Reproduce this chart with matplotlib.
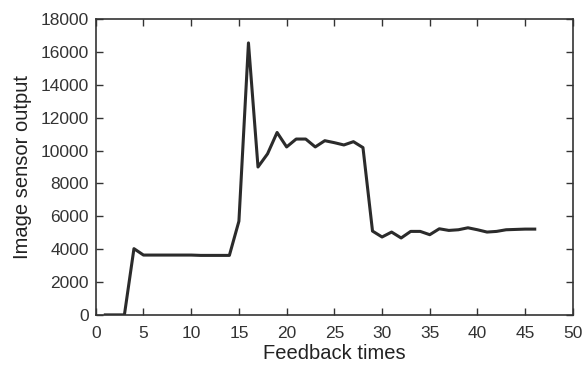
import matplotlib
matplotlib.use("Agg")
import matplotlib.pyplot as plt

plt.rcParams['font.family'] = ['Liberation Sans', 'DejaVu Sans']

feedback_times = list(range(1, 47))
sensor_output = [0, 0, 0, 4030, 3640, 3640, 3640, 3640, 3640, 3640,
                 3620, 3620, 3620, 3620, 5700, 16550, 9000, 9800, 11100, 10220,
                 10700, 10700, 10220, 10600, 10480, 10340, 10540, 10180, 5100, 4740,
                 5040, 4680, 5080, 5080, 4880, 5240, 5140, 5180, 5300, 5180,
                 5040, 5080, 5180, 5200, 5220, 5220]

x_ticks = list(range(0, 51, 5))
y_ticks = list(range(0, 18001, 2000))

fig = plt.figure(figsize=(5.84, 3.67), dpi=100)
ax = fig.add_axes([0.164, 0.142, 0.817, 0.806])
ax.plot(feedback_times, sensor_output, color='#2b2b2b', linewidth=2.2)
ax.set_xlim(0, 50)
ax.set_ylim(0, 18000)
ax.set_xticks(x_ticks)
ax.set_yticks(y_ticks)
ax.tick_params(direction='in', top=True, right=True, labelsize=12.5, length=5, width=1, colors='#333333')
ax.tick_params(axis='x', pad=8)
ax.tick_params(axis='y', pad=5)
for s in ax.spines.values():
    s.set_linewidth(1.2)
    s.set_color('#333333')
ax.set_xlabel('Feedback times', fontsize=14.5, color='#222222', labelpad=2)
ax.set_ylabel('Image sensor output', fontsize=14.5, color='#222222', labelpad=6)
fig.savefig('out.png', dpi=100)
